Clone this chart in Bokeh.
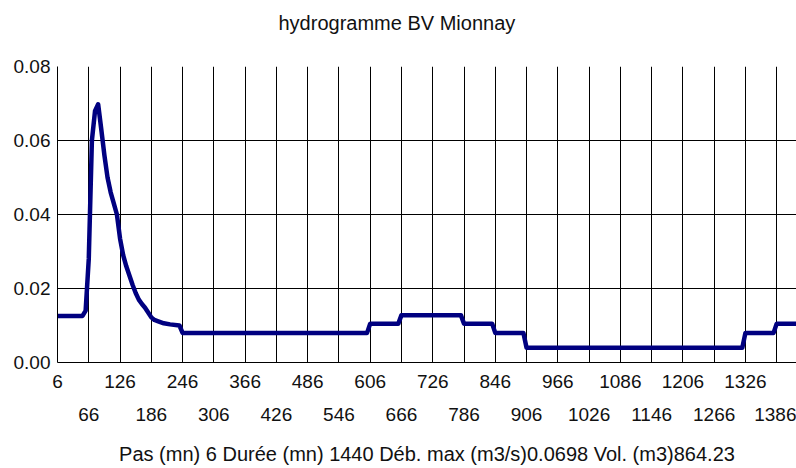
from bokeh.plotting import figure
from bokeh.models import LinearAxis, FixedTicker, Range1d, Title, PrintfTickFormatter
from bokeh.embed import file_html
from bokeh.resources import INLINE

# hydrograph vertices (time in minutes, flow in m3/s)
time_min = [6, 54, 60, 66, 72, 78, 84, 90, 96, 102,
            108, 114, 120, 126, 132, 138, 144, 150, 156, 162,
            168, 174, 180, 186, 192, 198, 210, 222, 240, 246,
            600, 606, 660, 666, 780, 786, 840, 846, 900, 906,
            1320, 1326, 1380, 1386, 1440]
flow = [0.0126, 0.0126, 0.0140, 0.0280, 0.0600, 0.0680, 0.0698, 0.0630, 0.0560, 0.0500,
        0.0460, 0.0430, 0.0400, 0.0335, 0.0290, 0.0260, 0.0235, 0.0210, 0.0188, 0.0170,
        0.0158, 0.0148, 0.0135, 0.0122, 0.0115, 0.0112, 0.0106, 0.0103, 0.0100, 0.0080,
        0.0080, 0.0105, 0.0105, 0.0128, 0.0128, 0.0105, 0.0105, 0.0080, 0.0080, 0.0040,
        0.0040, 0.0080, 0.0080, 0.0105, 0.0105]

x_ticks_row1 = [6, 126, 246, 366, 486, 606, 726, 846, 966, 1086, 1206, 1326]
x_ticks_row2 = [66, 186, 306, 426, 546, 666, 786, 906, 1026, 1146, 1266, 1386]
y_ticks = [0.0, 0.02, 0.04, 0.06, 0.08]

title_text = "hydrogramme BV Mionnay"
footer_text = "Pas (mn) 6 Durée (mn) 1440 Déb. max (m3/s)0.0698 Vol. (m3)864.23"

FONT = "Liberation Sans"
TXT = "#111111"

p = figure(width=796, height=468, output_backend="svg", toolbar_location=None,
           x_range=Range1d(6, 1424), y_range=Range1d(0, 0.08),
           min_border_left=57, min_border_right=0, min_border_top=66, min_border_bottom=106)
p.background_fill_color = "white"
p.border_fill_color = "white"
p.outline_line_color = None

# trailing empty line reserves the gap between the title and the frame
p.title = Title(text=title_text + "\n", align="left", offset=221, standoff=18,
                vertical_align="top",
                text_font=FONT, text_font_size="20px", text_font_style="normal",
                text_color=TXT)

# grid
all_grid = sorted(x_ticks_row1 + x_ticks_row2)
p.xgrid.ticker = FixedTicker(ticks=all_grid)
p.ygrid.ticker = FixedTicker(ticks=y_ticks)
for g in (p.xgrid, p.ygrid):
    g.grid_line_color = "black"
    g.grid_line_width = 1
    g.grid_line_alpha = 1.0

# y axis
ya = p.yaxis[0]
ya.ticker = FixedTicker(ticks=y_ticks)
ya.formatter = PrintfTickFormatter(format="%.2f")
ya.major_tick_out = 0
ya.major_tick_in = 0
ya.minor_tick_out = 0
ya.minor_tick_in = 0
ya.major_label_standoff = 7
ya.axis_line_color = "black"
ya.major_label_text_font = FONT
ya.major_label_text_font_size = "19px"
ya.major_label_text_color = TXT

# x axis row 1
xa = p.xaxis[0]
xa.ticker = FixedTicker(ticks=x_ticks_row1)
xa.major_tick_out = 0
xa.major_tick_in = 0
xa.minor_tick_out = 0
xa.minor_tick_in = 0
xa.major_label_standoff = 12
xa.axis_line_color = "black"
xa.major_label_text_font = FONT
xa.major_label_text_font_size = "19px"
xa.major_label_text_color = TXT

# x axis row 2 with footer
xb = LinearAxis(ticker=FixedTicker(ticks=x_ticks_row2))
xb.axis_line_color = None
xb.major_tick_out = 0
xb.major_tick_in = 0
xb.minor_tick_out = 0
xb.minor_tick_in = 0
xb.major_label_standoff = 17
xb.major_label_text_font = FONT
xb.major_label_text_font_size = "19px"
xb.major_label_text_color = TXT
xb.axis_label = footer_text
xb.axis_label_standoff = 19
xb.axis_label_text_font = FONT
xb.axis_label_text_font_size = "20px"
xb.axis_label_text_font_style = "normal"
xb.axis_label_text_color = TXT
p.add_layout(xb, "below")

p.line(time_min, flow, line_color="#000080", line_width=4.5, line_join="round")

open("out.html", "w").write(file_html(p, INLINE))
